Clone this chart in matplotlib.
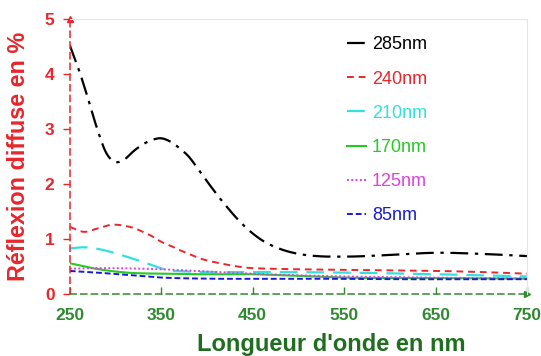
import matplotlib
matplotlib.use("Agg")
import matplotlib.pyplot as plt
import numpy as np

plt.rcParams['font.family'] = ['Liberation Sans', 'DejaVu Sans']

RED = '#e8262c'
GREEN_TICK = '#2f8a2f'
GREEN_LABEL = '#1f6e1f'

# Wavelength grids (nm) and diffuse reflectance (%) for each sample
wl_285 = [250, 260, 270, 280, 290, 300, 310, 320, 330, 340, 350, 360, 370, 380, 390,
          400, 420, 440, 460, 480, 500, 520, 550, 600, 650, 700, 750]
r_285 = [4.52, 4.07, 3.55, 3.0, 2.56, 2.4, 2.45, 2.6, 2.72, 2.8, 2.83, 2.77, 2.65, 2.5, 2.28,
         2.05, 1.62, 1.25, 0.98, 0.82, 0.73, 0.69, 0.68, 0.71, 0.75, 0.73, 0.69]

wl_240 = [250, 266, 280, 297, 310, 320, 330, 340, 350, 360, 370, 380, 392,
          414, 443, 470, 500, 550, 600, 650, 700, 750]
r_240 = [1.22, 1.13, 1.19, 1.26, 1.24, 1.2, 1.13, 1.05, 0.95, 0.88, 0.8, 0.73, 0.65,
         0.56, 0.48, 0.46, 0.45, 0.44, 0.43, 0.42, 0.4, 0.37]

wl_210 = [250, 264, 294, 312, 334, 356, 378, 400, 450, 550, 650, 750]
r_210 = [0.83, 0.85, 0.77, 0.68, 0.56, 0.44, 0.41, 0.4, 0.4, 0.39, 0.36, 0.32]

wl_170 = [250, 275, 312, 350, 400, 450, 500, 550, 650, 750]
r_170 = [0.56, 0.47, 0.39, 0.37, 0.36, 0.36, 0.33, 0.3, 0.29, 0.28]

wl_125 = [250, 270, 300, 350, 400, 450, 550, 650, 750]
r_125 = [0.46, 0.47, 0.47, 0.45, 0.41, 0.37, 0.32, 0.3, 0.28]

wl_85 = [250, 280, 310, 350, 400, 500, 600, 750]
r_85 = [0.42, 0.39, 0.35, 0.3, 0.28, 0.28, 0.27, 0.27]

x_ticks = [250, 350, 450, 550, 650, 750]
y_ticks = [0, 1, 2, 3, 4, 5]


def smooth(x, y, n=300):
    """Cubic Hermite resampling of the measured points for a smooth curve."""
    x = np.asarray(x, float)
    y = np.asarray(y, float)
    xs = np.linspace(x[0], x[-1], n)
    m = np.gradient(y, x)
    ys = np.empty_like(xs)
    idx = np.clip(np.searchsorted(x, xs) - 1, 0, len(x) - 2)
    for k, (xv, i) in enumerate(zip(xs, idx)):
        h = x[i + 1] - x[i]
        t = (xv - x[i]) / h
        h00 = 2 * t**3 - 3 * t**2 + 1
        h10 = t**3 - 2 * t**2 + t
        h01 = -2 * t**3 + 3 * t**2
        h11 = t**3 - t**2
        ys[k] = h00 * y[i] + h10 * h * m[i] + h01 * y[i + 1] + h11 * h * m[i + 1]
    return xs, ys


fig = plt.figure(figsize=(5.41, 3.56), dpi=100)
ax = fig.add_axes([0.129, 0.174, 0.845, 0.773])

series = [
    (wl_285, r_285, '285nm', 'black', (0, (8, 3, 1.5, 3)), 1.6),
    (wl_240, r_240, '240nm', RED, (0, (3.5, 2.5)), 1.4),
    (wl_210, r_210, '210nm', '#33e0e0', (0, (8, 4)), 1.6),
    (wl_170, r_170, '170nm', '#22cc22', '-', 1.5),
    (wl_125, r_125, '125nm', '#e040e0', (0, (1, 1.2)), 1.4),
    (wl_85, r_85, '85nm', '#1a1ad0', (0, (3, 1.5)), 1.4),
]

handles = []
for x, y, lab, col, ls, lw in series:
    xs, ys = smooth(x, y)
    h, = ax.plot(xs, ys, color=col, linestyle=ls, linewidth=lw, label=lab)
    handles.append(h)

ax.set_xlim(250, 750)
ax.set_ylim(0, 5)
ax.set_xticks(x_ticks)
ax.set_yticks(y_ticks)

ax.tick_params(axis='x', direction='in', colors=GREEN_TICK, length=5, width=1,
               labelsize=12.5, pad=10)
ax.tick_params(axis='y', direction='out', colors=RED, length=5, width=1,
               labelsize=12.5, pad=6)
for lbl in ax.get_xticklabels():
    lbl.set_fontweight('bold')
    lbl.set_color(GREEN_TICK)
for lbl in ax.get_yticklabels():
    lbl.set_fontweight('bold')
    lbl.set_color(RED)

for side in ('top', 'right'):
    ax.spines[side].set_color('#e6e6e6')
    ax.spines[side].set_linewidth(0.8)
ax.spines['left'].set_color(RED)
ax.spines['left'].set_linestyle((0, (4, 3)))
ax.spines['left'].set_linewidth(1.1)
ax.spines['bottom'].set_color(GREEN_TICK)
ax.spines['bottom'].set_linestyle((0, (4, 3)))
ax.spines['bottom'].set_linewidth(1.1)

# arrowheads at the ends of the axes
ax.plot([0], [1], marker='^', color=RED, markersize=5, transform=ax.transAxes, clip_on=False)
ax.plot([1], [0], marker='>', color=GREEN_TICK, markersize=5, transform=ax.transAxes, clip_on=False)

ax.set_xlabel("Longueur d'onde en nm", color=GREEN_LABEL, fontsize=17, fontweight='bold')
ax.xaxis.set_label_coords(0.571, -0.14)
ax.set_ylabel("Réflexion diffuse en %", color=RED, fontsize=16.8, fontweight='bold')
ax.yaxis.set_label_coords(-0.088, 0.5)

leg = ax.legend(handles=handles, loc='upper left', bbox_to_anchor=(0.57, 0.995),
                frameon=False, fontsize=13, handlelength=1.1, handletextpad=0.3,
                labelspacing=0.95)
for txt, h in zip(leg.get_texts(), handles):
    txt.set_color(h.get_color())

fig.savefig('out.png', dpi=100)
